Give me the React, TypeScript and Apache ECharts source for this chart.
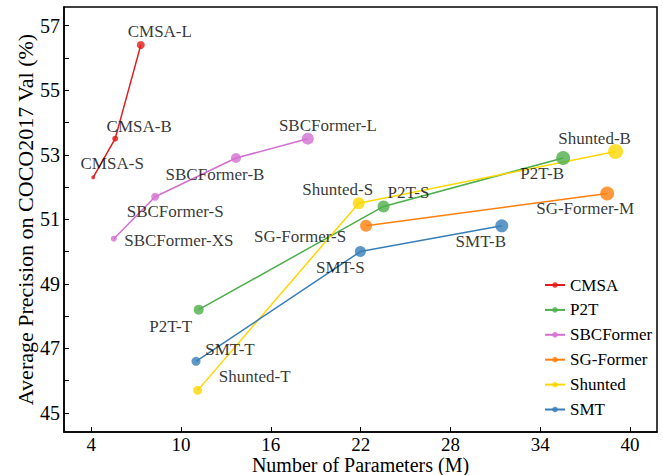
import React, { useEffect, useRef } from "react";
import * as echarts from "echarts";

// ---- data ----
const xTicks = [4, 10, 16, 22, 28, 34, 40];
const yTicks = [45, 46, 47, 48, 49, 50, 51, 52, 53, 54, 55, 56, 57];
const yLabels = [45, 47, 49, 51, 53, 55, 57];

const cmsaNames = ["CMSA-S", "CMSA-B", "CMSA-L"];
const cmsaParams = [4.13, 5.6, 7.31];
const cmsaAP = [52.3, 53.5, 56.4];
const cmsaSize = [4, 6, 8];

const p2tNames = ["P2T-T", "P2T-S", "P2T-B"];
const p2tParams = [11.18, 23.53, 35.53];
const p2tAP = [48.2, 51.4, 52.9];
const p2tSize = [10, 12, 14];

const sbcNames = ["SBCFormer-XS", "SBCFormer-S", "SBCFormer-B", "SBCFormer-L"];
const sbcParams = [5.51, 8.27, 13.67, 18.47];
const sbcAP = [50.4, 51.7, 52.9, 53.5];
const sbcSize = [6, 8, 10, 12];

const sgNames = ["SG-Former-S", "SG-Former-M"];
const sgParams = [22.36, 38.47];
const sgAP = [50.8, 51.8];
const sgSize = [12, 14];

const shuntedNames = ["Shunted-T", "Shunted-S", "Shunted-B"];
const shuntedParams = [11.11, 21.87, 39.03];
const shuntedAP = [45.7, 51.5, 53.1];
const shuntedSize = [9, 12, 15];

const smtNames = ["SMT-T", "SMT-S", "SMT-B"];
const smtParams = [11.0, 21.98, 31.43];
const smtAP = [46.6, 50.0, 50.8];
const smtSize = [9, 11, 13];

// ---- styling (label offsets relative to marker centre) ----
const labelOffsets: Record<string, [number, number]> = {
  "CMSA-S": [19, -14],
  "CMSA-B": [24, -12],
  "CMSA-L": [19, -14],
  "SBCFormer-XS": [65, 2],
  "SBCFormer-S": [20, 15],
  "SBCFormer-B": [-21, 16],
  "SBCFormer-L": [20, -13],
  "P2T-T": [-28, 17],
  "P2T-S": [25, -14],
  "P2T-B": [-21, 15],
  "Shunted-T": [57, -14],
  "Shunted-S": [-21, -14],
  "Shunted-B": [-21, -13],
  "SMT-T": [34, -12],
  "SMT-S": [-20, 16],
  "SMT-B": [-21, 16],
  "SG-Former-S": [-66, 11],
  "SG-Former-M": [-22, 15],
};

const FONT = "Liberation Serif";

function buildSeries(
  name: string,
  color: string,
  names: string[],
  xs: number[],
  ys: number[],
  sizes: number[]
) {
  return {
    name,
    type: "line",
    color,
    lineStyle: { color, width: 1.5 },
    itemStyle: { color, opacity: 0.8 },
    symbol: "circle",
    showAllSymbol: true,
    data: names.map((n, i) => ({
      name: n,
      value: [xs[i], ys[i]],
      symbolSize: sizes[i],
      label: {
        show: true,
        position: "inside",
        offset: labelOffsets[n],
        formatter: n,
        fontSize: 17,
        fontFamily: FONT,
        color: "#000",
      },
    })),
  };
}

export default function App() {
  const ref = useRef<HTMLDivElement>(null);
  useEffect(() => {
    if (!ref.current) return;
    const chart = echarts.init(ref.current, undefined, { renderer: "svg" });
    chart.setOption({
      animation: false,
      backgroundColor: "#fff",
      textStyle: { fontFamily: FONT },
      grid: {
        left: 64,
        right: 6,
        top: 7,
        bottom: 43,
        outerBoundsMode: "none",
        containLabel: false,
        show: true,
        borderColor: "#000",
        borderWidth: 1.5,
      },
      legend: {
        orient: "vertical",
        left: 539,
        top: 271,
        itemWidth: 20,
        itemHeight: 7,
        itemGap: 6.9,
        textStyle: { fontSize: 17, fontFamily: FONT, color: "#000", lineHeight: 18 },
        data: ["CMSA", "P2T", "SBCFormer", "SG-Former", "Shunted", "SMT"],
      },
      xAxis: {
        type: "value",
        min: 2.18,
        max: 41.8,
        name: "Number of Parameters (M)",
        nameLocation: "middle",
        nameGap: 22.5,
        nameMoveOverlap: false,
        nameTextStyle: { fontSize: 20, lineHeight: 20, fontFamily: FONT, color: "#000" },
        splitLine: { show: false },
        axisLine: { show: true, lineStyle: { color: "#000", width: 1.5 } },
        axisTick: { show: true, inside: true, length: 5, customValues: xTicks, lineStyle: { color: "#000" } },
        axisLabel: { customValues: xTicks, fontSize: 19, lineHeight: 19, fontFamily: FONT, color: "#000", margin: 3 },
      },
      yAxis: {
        type: "value",
        min: 44.41,
        max: 57.58,
        name: "Average Precision on COCO2017 Val (%)",
        nameLocation: "middle",
        nameGap: 28,
        nameMoveOverlap: false,
        nameTextStyle: { fontSize: 22, fontFamily: FONT, color: "#000" },
        splitLine: { show: false },
        axisLine: { show: true, lineStyle: { color: "#000", width: 1.5 } },
        axisTick: { show: true, inside: true, length: 5, customValues: yTicks, lineStyle: { color: "#000" } },
        axisLabel: { customValues: yLabels, fontSize: 20, fontFamily: FONT, color: "#000", margin: 4 },
      },
      series: [
        buildSeries("CMSA", "#e41a1c", cmsaNames, cmsaParams, cmsaAP, cmsaSize),
        buildSeries("P2T", "#4daf4a", p2tNames, p2tParams, p2tAP, p2tSize),
        buildSeries("SBCFormer", "#d46fd2", sbcNames, sbcParams, sbcAP, sbcSize),
        buildSeries("SG-Former", "#ff7f0e", sgNames, sgParams, sgAP, sgSize),
        buildSeries("Shunted", "#ffd700", shuntedNames, shuntedParams, shuntedAP, shuntedSize),
        buildSeries("SMT", "#377eb8", smtNames, smtParams, smtAP, smtSize),
      ],
    });
    return () => chart.dispose();
  }, []);
  return <div ref={ref} style={{ width: 663, height: 475, position: "absolute", left: 0, top: 0 }} />;
}
